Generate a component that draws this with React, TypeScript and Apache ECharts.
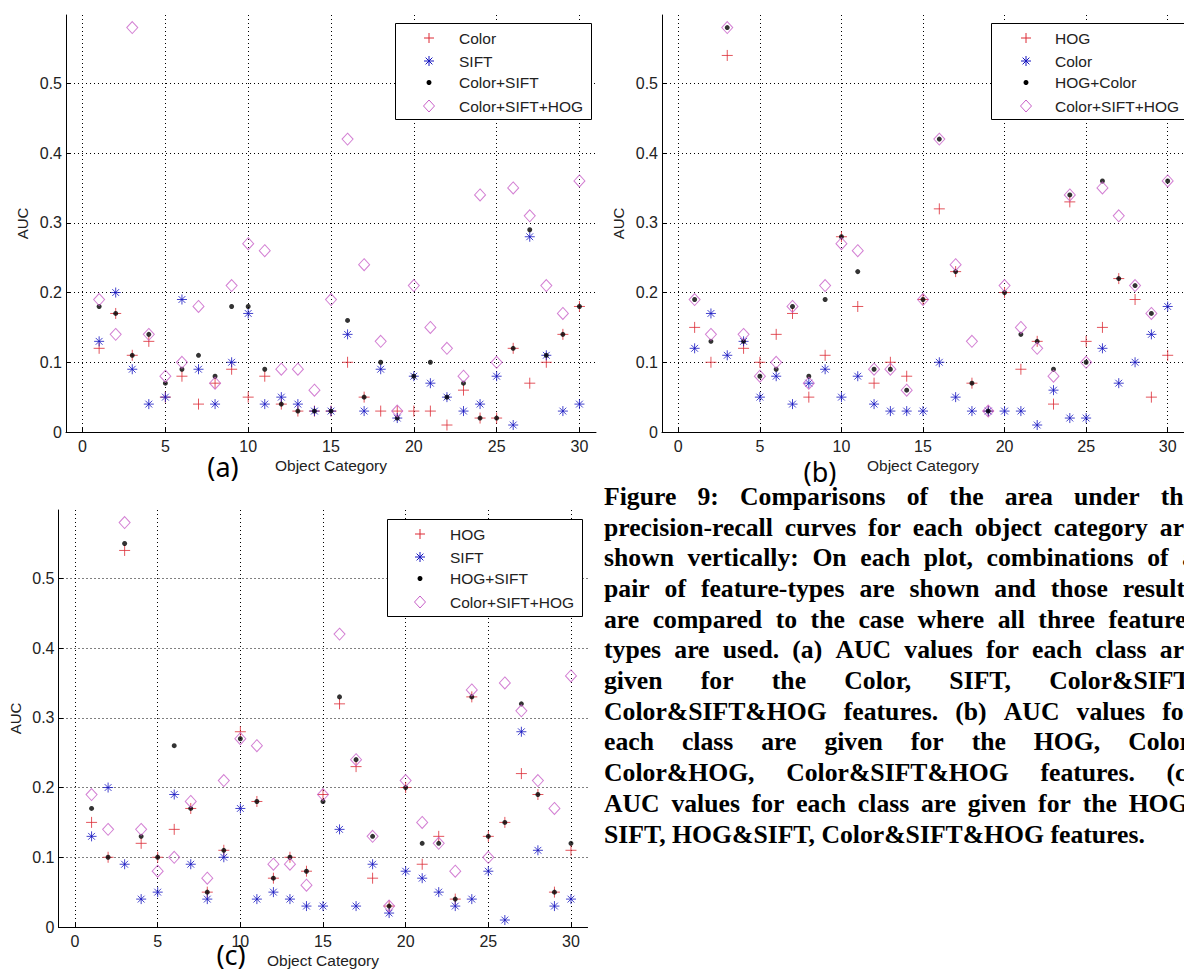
import React, { useEffect, useRef } from "react";
import * as echarts from "echarts";

// ---------------- data ----------------
const categories = [1, 2, 3, 4, 5, 6, 7, 8, 9, 10, 11, 12, 13, 14, 15, 16, 17, 18, 19, 20, 21, 22, 23, 24, 25, 26, 27, 28, 29, 30];
const xTicks = [0, 5, 10, 15, 20, 25, 30];
const yTicks = [0, 0.1, 0.2, 0.3, 0.4, 0.5];

const colorAUC = [0.12, 0.17, 0.11, 0.13, 0.05, 0.08, 0.04, 0.07, 0.09, 0.05, 0.08, 0.04, 0.03, 0.03, 0.03, 0.10, 0.05, 0.03, 0.03, 0.03, 0.03, 0.01, 0.06, 0.02, 0.02, 0.12, 0.07, 0.10, 0.14, 0.18];
const siftAUC = [0.13, 0.20, 0.09, 0.04, 0.05, 0.19, 0.09, 0.04, 0.10, 0.17, 0.04, 0.05, 0.04, 0.03, 0.03, 0.14, 0.03, 0.09, 0.02, 0.08, 0.07, 0.05, 0.03, 0.04, 0.08, 0.01, 0.28, 0.11, 0.03, 0.04];
const hogAUC = [0.15, 0.10, 0.54, 0.12, 0.10, 0.14, 0.17, 0.05, 0.11, 0.28, 0.18, 0.07, 0.10, 0.08, 0.19, 0.32, 0.23, 0.07, 0.03, 0.20, 0.09, 0.13, 0.04, 0.33, 0.13, 0.15, 0.22, 0.19, 0.05, 0.11];
const colorSiftAUC = [0.18, 0.17, 0.11, 0.14, 0.07, 0.09, 0.11, 0.08, 0.18, 0.18, 0.09, 0.04, 0.03, 0.03, 0.03, 0.16, 0.05, 0.10, 0.02, 0.08, 0.10, 0.05, 0.07, 0.02, 0.02, 0.12, 0.29, 0.11, 0.14, 0.18];
const hogColorAUC = [0.19, 0.13, 0.58, 0.13, 0.08, 0.09, 0.18, 0.08, 0.19, 0.28, 0.23, 0.09, 0.09, 0.06, 0.19, 0.42, 0.23, 0.07, 0.03, 0.20, 0.14, 0.13, 0.09, 0.34, 0.10, 0.36, 0.22, 0.21, 0.17, 0.36];
const hogSiftAUC = [0.17, 0.10, 0.55, 0.13, 0.10, 0.26, 0.17, 0.05, 0.11, 0.27, 0.18, 0.07, 0.10, 0.08, 0.18, 0.33, 0.24, 0.13, 0.03, 0.20, 0.12, 0.12, 0.04, 0.33, 0.13, 0.15, 0.32, 0.19, 0.05, 0.12];
const allAUC = [0.19, 0.14, 0.58, 0.14, 0.08, 0.10, 0.18, 0.07, 0.21, 0.27, 0.26, 0.09, 0.09, 0.06, 0.19, 0.42, 0.24, 0.13, 0.03, 0.21, 0.15, 0.12, 0.08, 0.34, 0.10, 0.35, 0.31, 0.21, 0.17, 0.36];

const namesA = ["Color", "SIFT", "Color+SIFT", "Color+SIFT+HOG"];
const namesB = ["HOG", "Color", "HOG+Color", "Color+SIFT+HOG"];
const namesC = ["HOG", "SIFT", "HOG+SIFT", "Color+SIFT+HOG"];
const panelLabels = ["(a)", "(b)", "(c)"];
const axisNameX = "Object Category";
const axisNameY = "AUC";

const captionLines = [
  "Figure 9: Comparisons of the area under the",
  "precision-recall curves for each object category are",
  "shown vertically: On each plot, combinations of a",
  "pair of feature-types are shown and those results",
  "are compared to the case where all three feature-",
  "types are used. (a) AUC values for each class are",
  "given for the Color, SIFT, Color&SIFT,",
  "Color&SIFT&HOG features. (b) AUC values for",
  "each class are given for the HOG, Color,",
  "Color&HOG, Color&SIFT&HOG features. (c)",
  "AUC values for each class are given for the HOG,",
  "SIFT, HOG&SIFT, Color&SIFT&HOG features.",
];

// ---------------- styling / layout ----------------
const RED = "#dc2a34";
const BLUE = "#1414c0";
const BLACK = "#000000";
const MAGENTA = "#c860c8";
const SANS = '"Liberation Sans", Arial, sans-serif';
const SERIF = '"Liberation Serif", "Times New Roman", serif';

const PLUS = "path://M5,0L5,10M0,5L10,5";
const STAR = "path://M5,0L5,10M0,5L10,5M1.6,1.6L8.4,8.4M1.6,8.4L8.4,1.6";

const panels = [
  { key: "a", names: namesA, values: [colorAUC, siftAUC, colorSiftAUC, allAUC],
    grid: { left: 66, top: 15, width: 530, height: 417 },
    legend: { x: 395, y: 23, w: 196, h: 96, mx: 429, tx: 459 },
    label: { x: 223, y: 466 } },
  { key: "b", names: namesB, values: [hogAUC, colorAUC, hogColorAUC, allAUC],
    grid: { left: 662, top: 15, width: 530, height: 417 },
    legend: { x: 991, y: 23, w: 200, h: 96, mx: 1026, tx: 1055 },
    label: { x: 820, y: 471 } },
  { key: "c", names: namesC, values: [hogAUC, siftAUC, hogSiftAUC, allAUC],
    grid: { left: 58.5, top: 510, width: 529, height: 417 },
    legend: { x: 387, y: 519, w: 195, h: 97, mx: 420, tx: 450 },
    label: { x: 231, y: 954 } },
];

const legendRows = [15, 38, 59.5, 83];

function markerGraphic(kind: number, cx: number, cy: number): any[] {
  const ln = (x1: number, y1: number, x2: number, y2: number, c: string) => ({
    type: "line", z: 101, shape: { x1, y1, x2, y2 }, style: { stroke: c, lineWidth: 1 },
  });
  if (kind === 0) return [ln(cx - 5, cy, cx + 5, cy, RED), ln(cx, cy - 5, cx, cy + 5, RED)];
  if (kind === 1)
    return [
      ln(cx - 5, cy, cx + 5, cy, BLUE), ln(cx, cy - 5, cx, cy + 5, BLUE),
      ln(cx - 3.4, cy - 3.4, cx + 3.4, cy + 3.4, BLUE), ln(cx - 3.4, cy + 3.4, cx + 3.4, cy - 3.4, BLUE),
    ];
  if (kind === 2) return [{ type: "circle", z: 101, shape: { cx, cy, r: 2.5 }, style: { fill: BLACK } }];
  return [{
    type: "polygon", z: 101,
    shape: { points: [[cx, cy - 6], [cx + 5.5, cy], [cx, cy + 6], [cx - 5.5, cy]] },
    style: { fill: "none", stroke: MAGENTA, lineWidth: 1 },
  }];
}

function textEl(text: string, x: number, y: number, size: number, family: string, opts: any = {}) {
  return {
    type: "text", z: 101, x, y,
    style: {
      text, fontSize: size, fontFamily: family, fill: opts.fill || "#000",
      fontWeight: opts.weight || "normal",
      align: opts.align || "left", textAlign: opts.align || "left",
      verticalAlign: "middle", textVerticalAlign: "middle",
    },
  };
}

function buildCaption(): any[] {
  const size = 25.7;
  const left = 604;
  const right = 1195;
  const firstY = 496.3;
  const step = 30.7;
  const canvas = document.createElement("canvas");
  const ctx = canvas.getContext("2d") as CanvasRenderingContext2D;
  ctx.font = `bold ${size}px "Liberation Serif"`;
  const els: any[] = [];
  captionLines.forEach((line, i) => {
    const y = firstY + i * step;
    if (i === captionLines.length - 1) {
      els.push(textEl(line, left, y, size, SERIF, { weight: "bold" }));
      return;
    }
    const words = line.split(" ");
    const widths = words.map((w) => ctx.measureText(w).width);
    const total = widths.reduce((s, v) => s + v, 0);
    const gap = (right - left - total) / (words.length - 1);
    let x = left;
    words.forEach((w, j) => {
      els.push(textEl(w, x, y, size, SERIF, { weight: "bold" }));
      x += widths[j] + gap;
    });
  });
  return els;
}

export default function App() {
  const ref = useRef<HTMLDivElement>(null);

  useEffect(() => {
    if (!ref.current) return;
    const chart = echarts.init(ref.current, undefined, { renderer: "svg" });

    const grids: any[] = [];
    const xAxes: any[] = [];
    const yAxes: any[] = [];
    const series: any[] = [];
    const graphics: any[] = [];

    const labelStyle = { fontSize: 16, fontFamily: SANS, color: "#222" };
    const splitStyle = { show: true, lineStyle: { color: "#000", width: 1, type: [1, 3] } };

    panels.forEach((p, pi) => {
      grids.push({ ...p.grid, containLabel: false });
      xAxes.push({
        type: "value", gridIndex: pi, min: -1, max: 31,
        name: axisNameX, nameLocation: "middle", nameGap: 25,
        nameTextStyle: { fontSize: 15.5, fontFamily: SANS, color: "#222" },
        axisLine: { show: true, onZero: false, lineStyle: { color: "#000", width: 1 } },
        axisTick: { show: true, inside: true, length: 5, customValues: xTicks, lineStyle: { color: "#000" } },
        axisLabel: { ...labelStyle, margin: 6, customValues: xTicks, formatter: (v: number) => String(v) },
        splitLine: splitStyle,
      });
      yAxes.push({
        type: "value", gridIndex: pi, min: 0, max: 0.598,
        name: axisNameY, nameLocation: "middle", nameGap: 36, nameRotate: 90,
        nameTextStyle: { fontSize: 15, fontFamily: SANS, color: "#222" },
        axisLine: { show: true, onZero: false, lineStyle: { color: "#000", width: 1 } },
        axisTick: { show: true, inside: true, length: 5, customValues: yTicks, lineStyle: { color: "#000" } },
        axisLabel: { ...labelStyle, margin: 4, customValues: yTicks, formatter: (v: number) => String(Math.round(v * 10) / 10) },
        splitLine: splitStyle,
      });

      p.values.forEach((vals, k) => {
        const data = categories.map((c, i) => [c, vals[i]]);
        const base: any = {
          type: "scatter", name: `${p.key}:${p.names[k]}`, xAxisIndex: pi, yAxisIndex: pi,
          data, silent: true, z: 2 + k,
        };
        if (k === 0) Object.assign(base, { symbol: PLUS, symbolSize: 11, itemStyle: { color: "rgba(0,0,0,0)", borderColor: RED, borderWidth: 1 } });
        if (k === 1) Object.assign(base, { symbol: STAR, symbolSize: 10, itemStyle: { color: "rgba(0,0,0,0)", borderColor: BLUE, borderWidth: 1 } });
        if (k === 2) Object.assign(base, { symbol: "circle", symbolSize: 5, itemStyle: { color: BLACK } });
        if (k === 3) Object.assign(base, { symbol: "diamond", symbolSize: [11, 12], itemStyle: { color: "rgba(0,0,0,0)", borderColor: MAGENTA, borderWidth: 1 } });
        series.push(base);
      });

      // legend box (MATLAB style)
      const L = p.legend;
      graphics.push({
        type: "rect", z: 100, shape: { x: L.x + 0.5, y: L.y + 0.5, width: L.w, height: L.h },
        style: { fill: "#fff", stroke: "#000", lineWidth: 1 },
      });
      p.names.forEach((n, k) => {
        const cy = L.y + legendRows[k];
        graphics.push(...markerGraphic(k, L.mx, cy));
        graphics.push(textEl(n, L.tx, cy, 15.5, SANS, { fill: "#222" }));
      });
      graphics.push(textEl(panelLabels[pi], p.label.x, p.label.y, 27, '"Noto Sans", "Open Sans", sans-serif', { align: "center" }));
    });

    graphics.push(...buildCaption());

    chart.setOption({
      animation: false,
      backgroundColor: "#ffffff",
      grid: grids,
      xAxis: xAxes,
      yAxis: yAxes,
      series,
      graphic: { elements: graphics },
    });

    return () => chart.dispose();
  }, []);

  return (
    <div
      ref={ref}
      style={{ position: "fixed", left: 0, top: 0, width: 1184, height: 971, background: "#fff", overflow: "hidden" }}
    />
  );
}
